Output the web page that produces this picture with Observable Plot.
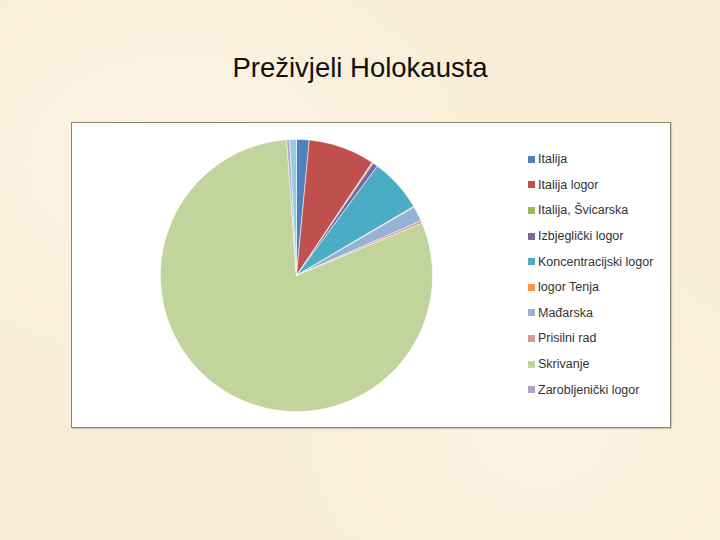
<!DOCTYPE html>
<html>
<head>
<meta charset="utf-8">
<script src="https://cdn.jsdelivr.net/npm/d3@7"></script>
<script src="https://cdn.jsdelivr.net/npm/@observablehq/plot@0.6"></script>
<style>
  html, body { margin: 0; padding: 0; }
  body {
    width: 720px; height: 540px; overflow: hidden;
    background: #f8eed7;
    background-image:
      radial-gradient(ellipse at 25% 30%, rgba(253,247,232,0.7), rgba(253,247,232,0) 45%),
      radial-gradient(ellipse at 75% 80%, rgba(253,247,232,0.5), rgba(253,247,232,0) 40%);
    font-family: "Liberation Sans", Arial, sans-serif;
  }
  #root { position: relative; width: 720px; height: 540px; }
  #title {
    position: absolute; left: 0; width: 720px; top: 52px;
    text-align: center; font-size: 27.5px; line-height: 32px; color: #111;
  }
  #box {
    position: absolute; left: 71px; top: 122px; width: 598px; height: 304px;
    background: #fff; border: 1px solid #8c8272;
    box-shadow: 1px 1px 1px rgba(120,110,90,0.3);
  }
  #pie { position: absolute; left: 155.5px; top: 134.5px; }
  #legend { position: absolute; left: 528px; top: 146.5px; }
  .item { height: 25.6px; display: flex; align-items: center; font-size: 12.5px; color: #333; }
  .sw { width: 7px; height: 7px; margin-right: 3px; }
</style>
</head>
<body>
<div id="root">
  <div id="title">Preživjeli Holokausta</div>
  <div id="box"></div>
  <div id="pie"></div>
  <div id="legend"></div>
</div>
<script>
// Data (percent shares)
const categories = ["Italija", "Italija logor", "Italija, Švicarska", "Izbjeglički logor",
  "Koncentracijski logor", "logor Tenja", "Mađarska", "Prisilni rad", "Skrivanje",
  "Zarobljenički logor", "Ostalo"];
const values = [1.5, 7.9, 0.15, 0.6, 6.4, 0.1, 1.8, 0.3, 80.3, 0.35, 0.8];
const colors = ["#4f81bd", "#c0504d", "#9bbb59", "#8064a2", "#4bacc6", "#f79646",
  "#95b3d7", "#d99694", "#c0d49b", "#b3a2c7", "#93cddd"];
const legendCount = 10; // legend in the reference lists the first ten

const data = categories.map((name, i) => ({name, value: values[i]}));
const arcs = d3.pie().sort(null).value(d => d.value)(data);

// polygon outline of each slice in unit coordinates
const pts = [];
const step = Math.PI / 360;
for (const a of arcs) {
  const name = a.data.name;
  pts.push({name, x: 0, y: 0});
  const n = Math.max(2, Math.ceil((a.endAngle - a.startAngle) / step));
  for (let k = 0; k <= n; k++) {
    const t = a.startAngle + (a.endAngle - a.startAngle) * k / n;
    pts.push({name, x: Math.sin(t), y: Math.cos(t)});
  }
  pts.push({name, x: 0, y: 0});
}

const size = 280, radiusPx = 136, R = (size / 2) / radiusPx;
const chart = Plot.plot({
  width: size, height: size,
  margin: 0,
  x: {domain: [-R, R], axis: null},
  y: {domain: [-R, R], axis: null},
  color: {domain: categories, range: colors},
  style: {background: "transparent"},
  marks: [
    Plot.line(pts, {x: "x", y: "y", z: "name", fill: "name", stroke: "white",
      strokeWidth: 0.6, strokeOpacity: 0.9, curve: "linear"})
  ]
});
document.getElementById("pie").appendChild(chart);

const legend = document.getElementById("legend");
categories.slice(0, legendCount).forEach((c, i) => {
  const row = document.createElement("div");
  row.className = "item";
  const sw = document.createElement("span");
  sw.className = "sw";
  sw.style.background = colors[i];
  const lb = document.createElement("span");
  lb.textContent = c;
  row.appendChild(sw); row.appendChild(lb);
  legend.appendChild(row);
});
</script>
</body>
</html>
